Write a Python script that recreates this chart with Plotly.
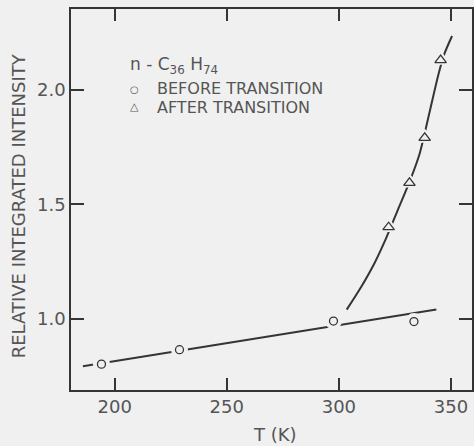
import plotly.graph_objects as go

# Relative integrated intensity of n-C36H74 vs temperature
T_before = [194.1, 228.9, 297.6, 333.5]
I_before = [0.802, 0.865, 0.990, 0.988]

T_after = [322.2, 331.5, 338.3, 345.4]
I_after = [1.40, 1.594, 1.79, 2.13]

# straight line through the low-temperature points
T_fit = [185.8, 343.5]
I_fit = [0.793, 1.041]

# hand-drawn curve through the high-temperature points
T_curve = [303.5, 310.0, 316.0, 321.0, 326.5, 332.0, 336.0, 339.0, 344.5, 347.0, 350.5]
I_curve = [1.04, 1.14, 1.245, 1.35, 1.48, 1.61, 1.72, 1.84, 2.07, 2.155, 2.235]

x_ticks = [200, 250, 300, 350]
y_ticks = [1.0, 1.5, 2.0]
y_tick_text = ["1.0", "1.5", "2.0"]

BG = "#f0f0f0"
INK = "#353535"
TXT = "#555555"
FONT = "DejaVu Sans"

fig = go.Figure()

fig.add_trace(go.Scatter(x=T_fit, y=I_fit, mode="lines",
                         line=dict(color=INK, width=2), hoverinfo="skip"))
fig.add_trace(go.Scatter(x=T_curve, y=I_curve, mode="lines",
                         line=dict(color=INK, width=2, shape="spline", smoothing=0.8),
                         hoverinfo="skip"))

# background-coloured halos break the lines around each marker
fig.add_trace(go.Scatter(x=T_before, y=I_before, mode="markers",
                         marker=dict(symbol="circle", size=17, color=BG, line=dict(width=0)),
                         hoverinfo="skip"))
fig.add_trace(go.Scatter(x=T_after, y=I_after, mode="markers",
                         marker=dict(symbol="triangle-up", size=19, color=BG, line=dict(width=0)),
                         hoverinfo="skip"))

fig.add_trace(go.Scatter(x=T_before, y=I_before, mode="markers", name="BEFORE TRANSITION",
                         marker=dict(symbol="circle-open", size=8, color=INK, line=dict(width=1.3))))
fig.add_trace(go.Scatter(x=T_after, y=I_after, mode="markers", name="AFTER TRANSITION",
                         marker=dict(symbol="triangle-up-open", size=10, color=INK, line=dict(width=1.3))))

L, T, B, R = 71, 9, 56, 0
W, H = 474, 446
pw, ph = W - L - R, H - T - B


def px(xp):
    return (xp - L) / pw


def py(yp):
    return (H - B - yp) / ph


annotations = [
    dict(text="RELATIVE INTEGRATED INTENSITY", x=px(18.5), y=py(205.5), textangle=-90,
         font=dict(size=18)),
    dict(text="T (K)", x=px(276.5), y=py(434.5), font=dict(size=18)),
    dict(text="n - C<sub>36</sub> H<sub>74</sub>", x=px(129), y=py(66), xanchor="left",
         font=dict(size=17)),
    dict(text="○", x=px(135), y=py(89.5), font=dict(size=10)),
    dict(text="BEFORE TRANSITION", x=px(156), y=py(88.5), xanchor="left", font=dict(size=16)),
    dict(text="△", x=px(135), y=py(106.5), font=dict(size=11)),
    dict(text="AFTER TRANSITION", x=px(156), y=py(107.5), xanchor="left", font=dict(size=16)),
]
for a in annotations:
    a.update(xref="paper", yref="paper", showarrow=False, yanchor="middle", borderpad=0)
    a.setdefault("xanchor", "center")
    a["font"].update(family=FONT, color=TXT)

fig.update_layout(
    width=W, height=H,
    margin=dict(l=L, r=R, t=T, b=B, pad=0),
    paper_bgcolor=BG, plot_bgcolor=BG,
    showlegend=False,
    font=dict(family=FONT, size=18, color=TXT),
    annotations=annotations,
    xaxis=dict(range=[180.5, 359.4], tickvals=x_ticks, ticks="inside", ticklen=12,
               tickwidth=1.5, tickcolor=INK, showline=True, linecolor=INK, linewidth=1.5,
               mirror="ticks", showgrid=False, zeroline=False,
               tickfont=dict(family=FONT, size=18, color=TXT)),
    yaxis=dict(range=[0.689, 2.353], tickvals=y_ticks, ticktext=y_tick_text, ticks="inside",
               ticklen=13, tickwidth=1.5, tickcolor=INK, showline=True, linecolor=INK,
               linewidth=1.5, mirror="ticks", showgrid=False, zeroline=False,
               tickfont=dict(family=FONT, size=18, color=TXT)),
)

fig.write_html("out.html")
